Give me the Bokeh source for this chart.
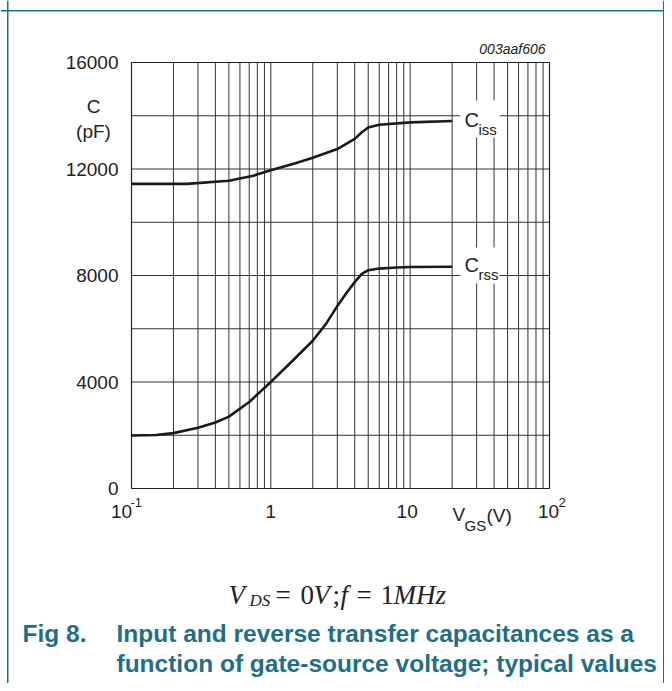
from bokeh.plotting import figure
from bokeh.models import Label, BoxAnnotation, Range1d
from bokeh.embed import file_html
from bokeh.resources import INLINE

# ---- data ----
ciss_v = [0.1, 0.25, 0.5, 0.75, 1.0, 1.5, 2.0, 3.0, 4.0, 4.5, 5.0, 6.0, 10, 20]
ciss_c = [11440, 11440, 11560, 11750, 11950, 12220, 12420, 12750, 13130, 13380, 13560, 13660, 13750, 13800]
crss_v = [0.1, 0.15, 0.2, 0.3, 0.4, 0.5, 0.7, 1.0, 1.5, 2.0, 2.5, 3.0, 3.5, 4.0, 4.5, 5.0, 6.0, 8.0, 10, 20]
crss_c = [1990, 2010, 2080, 2280, 2480, 2700, 3250, 4000, 4900, 5550, 6200, 6850, 7350, 7750, 8060, 8200, 8260, 8300, 8320, 8330]
y_ticks = [0, 4000, 8000, 12000, 16000]
y_grid = [2000, 4000, 6000, 8000, 10000, 12000, 14000]
x_grid = [m * d for d in (0.1, 1, 10) for m in range(2, 10)] + [1, 10]
x_min, x_max = 0.1, 100
y_min, y_max = 0, 16000

TEAL = "#1f6f88"
INK = "#222222"
SANS = "Liberation Sans"
SERIF = "Liberation Serif"

W, H = 664, 683
# plot box placement on the canvas (pixels)
FX0, FX1, FY0, FY1 = 131, 549, 62, 488
decade = (FX1 - FX0) / 3.0
per_unit = (FY1 - FY0) / (y_max - y_min)

p = figure(x_axis_type="log", frame_width=W, frame_height=H,
           min_border=0, output_backend="svg", toolbar_location=None)
p.x_range = Range1d(x_min / 10 ** (FX0 / decade), x_min * 10 ** ((W - FX0) / decade))
p.y_range = Range1d(y_min - (H - FY1) / per_unit, y_max + FY0 / per_unit)
p.axis.visible = False
p.grid.visible = False
p.outline_line_color = None
p.background_fill_color = "white"
p.border_fill_color = "white"

# grid
p.segment(x0=x_grid, y0=[y_min] * len(x_grid), x1=x_grid, y1=[y_max] * len(x_grid),
          line_color="#333333", line_width=1)
p.segment(x0=[x_min] * len(y_grid), y0=y_grid, x1=[x_max] * len(y_grid), y1=y_grid,
          line_color="#333333", line_width=1)
p.quad(left=[x_min], right=[x_max], bottom=[y_min], top=[y_max],
       fill_color=None, line_color=INK, line_width=1.2)

# curves
p.line(ciss_v, ciss_c, line_width=2.6, color="#1a1a1a")
p.line(crss_v, crss_c, line_width=2.6, color="#1a1a1a")


def box(l, r, t, b, color="white"):
    p.add_layout(BoxAnnotation(left=l, right=r, top=H - t, bottom=H - b,
                               left_units="screen", right_units="screen",
                               top_units="screen", bottom_units="screen",
                               fill_color=color, fill_alpha=1, line_color=None))


def lab(x, y, text, size=19, font=SANS, style="normal", align="left",
        baseline="middle", color=INK, xu="screen", yu="screen", xo=0):
    p.add_layout(Label(x=x, y=(H - y) if yu == "screen" else y,
                       x_units=xu, y_units=yu, text=text, x_offset=xo,
                       text_font=font, text_font_size=f"{size}px",
                       text_font_style=style, text_align=align,
                       text_baseline=baseline, text_color=color))


# white boxes behind the curve labels
box(460, 499, 100, 137)
box(460, 499, 247, 283)

# curve labels
lab(464, 119, "C", size=20)
lab(478, 129, "iss", size=15)
lab(464, 264, "C", size=20)
lab(478, 274, "rss", size=15)

# y tick labels
for v in y_ticks:
    lab(118, v, str(v), align="right", yu="data")

# y axis title
lab(93, 106, "C", align="center")
lab(93, 131, "(pF)", align="center")

# code id
lab(545, 48, "003aaf606", size=14, style="italic", align="right")

# x tick labels
lab(x_min, 511, "10", align="center", xu="data", xo=-10)
lab(x_min, 502, "-1", size=13, xu="data", xo=-1)
lab(1, 511, "1", align="center", xu="data")
lab(10, 511, "10", align="center", xu="data", xo=-3)
lab(x_max, 511, "10", align="center", xu="data", xo=-1)
lab(x_max, 502, "2", size=13, xu="data", xo=9)
lab(452, 514, "V")
lab(464, 525, "GS", size=15)
lab(486, 515, "(V)")

# formula
for x, t, s, st, yb in ((228, "V", 27, "italic", 594), (249, "DS", 17, "italic", 600),
                        (275, "=", 27, "normal", 594), (300, "0", 27, "normal", 594),
                        (313, "V", 27, "italic", 594), (332, ";", 27, "normal", 594),
                        (340, "f", 27, "italic", 594), (356, "=", 27, "normal", 594),
                        (380, "1", 27, "normal", 594), (393, "MHz", 27, "italic", 594)):
    lab(x, yb, t, size=s, font=SERIF, style=st, baseline="alphabetic")

# caption
lab(22, 633, "Fig 8.", size=24.5, style="bold", color=TEAL)
lab(116, 633, "Input and reverse transfer capacitances as a", size=24.5, style="bold", color=TEAL)
lab(116, 663, "function of gate-source voltage; typical values", size=24.5, style="bold", color=TEAL)

# page frame lines
box(0, W, 9.5, 11, TEAL)
box(6.5, 8, 0, H, TEAL)
box(662.5, 664, 0, H, TEAL)

open("out.html", "w").write(file_html(p, INLINE))
